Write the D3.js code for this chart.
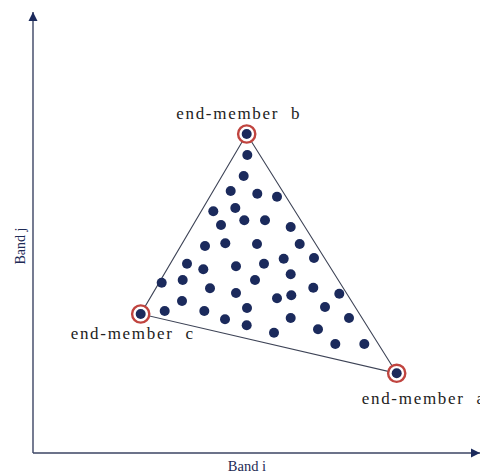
<!DOCTYPE html>
<html>
<head>
<meta charset="utf-8">
<script src="https://cdn.jsdelivr.net/npm/d3@7"></script>
<style>
  body { margin: 0; background: #fff; }
  svg { display: block; }
  text { font-family: "Liberation Serif", "DejaVu Serif", serif; }
</style>
</head>
<body>
<div id="chart"></div>
<script>
// spectral space: pixel values in band i / band j (arbitrary units)
const endMembers = [
  { name: "end-member  a", i: 363.7, j: 79.7 },
  { name: "end-member  b", i: 213.7, j: 319 },
  { name: "end-member  c", i: 107.7, j: 139 }
];

const mixedI = [214.3, 210.7, 197.7, 224.3, 244, 180.3, 202.3, 188, 211.3, 232, 257.7,
  172, 192.3, 224, 266.7, 154, 170.3, 203, 231, 250.7, 281,
  128.7, 149.7, 177, 222, 257.7, 203, 244, 258.3, 280.3, 306.3,
  131.7, 149, 171.3, 192, 214, 213.7, 241, 257.7, 292, 316, 285, 302.3, 331.3];
const mixedJ = [298, 277, 262, 259.3, 256.3, 241.7, 245, 228, 232.7, 232.7, 226,
  207, 209.7, 209, 209, 189.3, 183.7, 186.7, 189.3, 194.3, 195,
  170.3, 173, 164.7, 173, 178.7, 160, 154.7, 157.7, 165.3, 159.3,
  142, 152, 142, 133.7, 145, 127.7, 120.3, 135, 146, 135, 123.7, 109, 109];

const axisLabels = { x: "Band i", y: "Band j" };

const width = 480, height = 475;
const navy = "#1b2a5c";

const svg = d3.select("#chart")
  .append("svg")
  .attr("width", width)
  .attr("height", height);

const x = d3.scaleLinear().domain([0, 447]).range([33, 480]);
const y = d3.scaleLinear().domain([0, 441]).range([453, 12]);

// arrow heads
const defs = svg.append("defs");
defs.append("marker")
  .attr("id", "arrow")
  .attr("viewBox", "0 0 10 10")
  .attr("refX", 10).attr("refY", 5)
  .attr("markerWidth", 6.5).attr("markerHeight", 6.5)
  .attr("markerUnits", "strokeWidth")
  .attr("orient", "auto")
  .append("path")
  .attr("d", "M0,0L10,5L0,10Z")
  .attr("fill", navy);

// axes
svg.append("line")
  .attr("x1", x(0)).attr("y1", y(0))
  .attr("x2", x(0)).attr("y2", y(441))
  .attr("stroke", "#3b4463").attr("stroke-width", 1.4)
  .attr("marker-end", "url(#arrow)");
svg.append("line")
  .attr("x1", x(0)).attr("y1", y(0))
  .attr("x2", x(447)).attr("y2", y(0))
  .attr("stroke", "#3b4463").attr("stroke-width", 1.4)
  .attr("marker-end", "url(#arrow)");

svg.append("text")
  .attr("x", 247).attr("y", 471)
  .attr("text-anchor", "middle")
  .attr("font-size", 14.5)
  .attr("fill", "#1e2a55")
  .text(axisLabels.x);
svg.append("text")
  .attr("transform", "translate(25,246) rotate(-90)")
  .attr("text-anchor", "middle")
  .attr("font-size", 14)
  .attr("fill", "#1e2a55")
  .text(axisLabels.y);

// simplex
svg.append("polygon")
  .attr("points", endMembers.map(d => [x(d.i), y(d.j)].join(",")).join(" "))
  .attr("fill", "none")
  .attr("stroke", "#3d4356")
  .attr("stroke-width", 1.1);

// mixed pixels
svg.append("g")
  .selectAll("circle")
  .data(d3.zip(mixedI, mixedJ))
  .join("circle")
  .attr("cx", d => x(d[0]))
  .attr("cy", d => y(d[1]))
  .attr("r", 5)
  .attr("fill", navy);

// end-members: ring + dot + label
const em = svg.append("g")
  .selectAll("g")
  .data(endMembers)
  .join("g")
  .attr("transform", d => `translate(${x(d.i)},${y(d.j)})`);

em.append("circle")
  .attr("r", 8.6)
  .attr("fill", "#fff")
  .attr("stroke", "#c0443f")
  .attr("stroke-width", 2.4);
em.append("circle")
  .attr("r", 5)
  .attr("fill", navy);

// label "a" runs off the right edge, as in the original figure
const labelPos = {
  "end-member  a": [-35, 31, "start"],
  "end-member  b": [-8, -15, "middle"],
  "end-member  c": [-8, 25, "middle"]
};
em.append("text")
  .attr("x", d => labelPos[d.name][0])
  .attr("y", d => labelPos[d.name][1])
  .attr("text-anchor", d => labelPos[d.name][2])
  .attr("font-size", 17)
  .attr("letter-spacing", 1.7)
  .attr("fill", "#222")
  .style("white-space", "pre")
  .text(d => d.name);
</script>
</body>
</html>
